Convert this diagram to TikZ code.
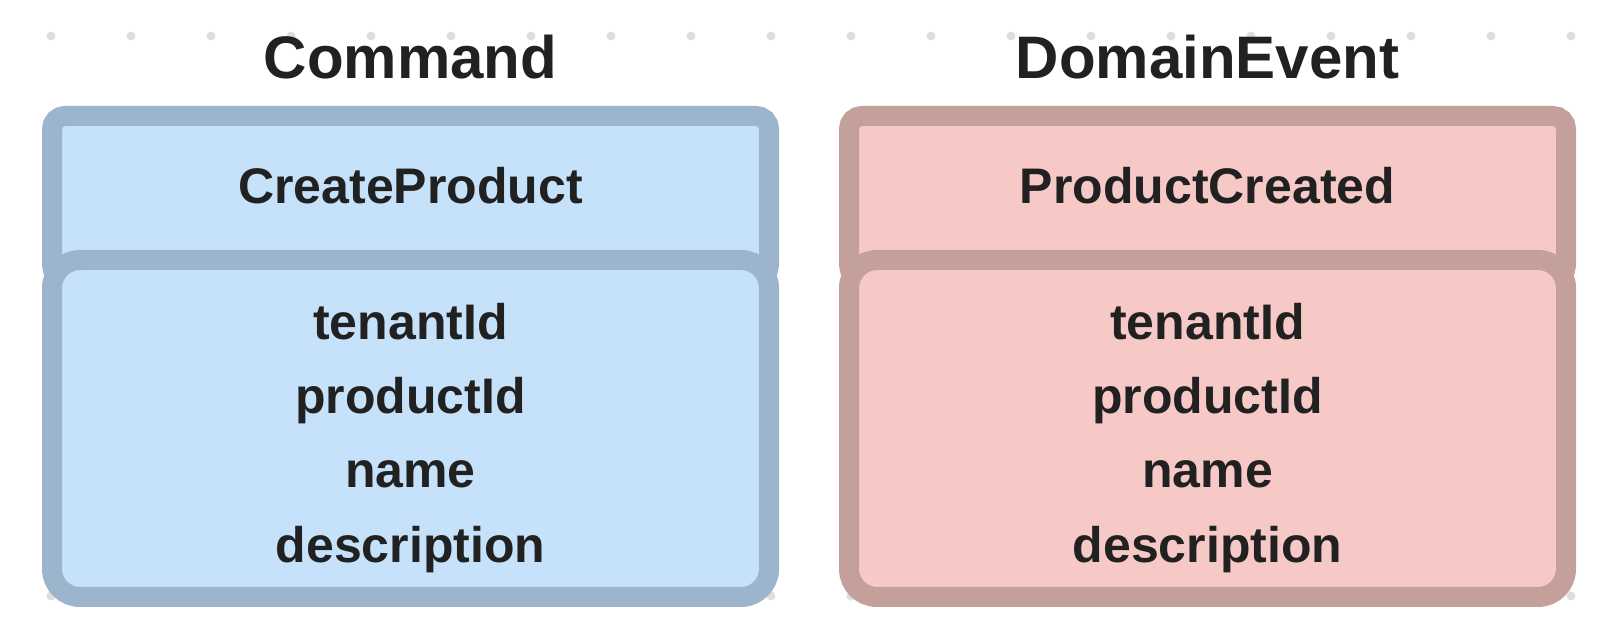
\documentclass[tikz,border=0pt]{standalone}
\usepackage{fontspec}
\setmainfont{Liberation Sans}
\definecolor{ink}{HTML}{212121}
\definecolor{dotgrey}{HTML}{DEDEDE}
\definecolor{cmdfill}{HTML}{C5E2FA}
\definecolor{cmdline}{HTML}{9DB5CC}
\definecolor{evtfill}{HTML}{F6C9C6}
\definecolor{evtline}{HTML}{C4A09A}
\tikzset{
    title/.style = {anchor = base, text = ink, font = \bfseries\fontsize{60}{72}\selectfont},
    entry/.style = {anchor = base, text = ink, font = \bfseries\fontsize{50}{60}\selectfont},
    cmdbox/.style = {fill = cmdfill, draw = cmdline, line width = 20pt},
    evtbox/.style = {fill = evtfill, draw = evtline, line width = 20pt},
}
\begin{document}
\begin{tikzpicture}[x = 1pt, y = 1pt]
    \useasboundingbox (0, 0) rectangle (1614, 644);
    % dot grid behind
    \foreach \i in {0,...,19} {
        \fill [dotgrey] (51 + 80*\i, 608) circle (4.5);
        \fill [dotgrey] (51 + 80*\i, 48) circle (4.5);
    }
    % command
    \draw [cmdbox, rounded corners = 13pt] (52, 528) rectangle (769, 366);
    \draw [cmdbox, rounded corners = 28pt] (52, 384) rectangle (769, 47);
    \node [title] (cmdtitle) at (410.5, 565) {Command};
    \node [entry] (cmdhead) at (410.5, 440) {CreateProduct};
    % domain event
    \draw [evtbox, rounded corners = 13pt] (849, 528) rectangle (1566, 366);
    \draw [evtbox, rounded corners = 28pt] (849, 384) rectangle (1566, 47);
    \node [title] (evttitle) at (1207.5, 565) {DomainEvent};
    \node [entry] (evthead) at (1207.5, 440) {ProductCreated};
    % fields
    \foreach \y/\f in {304/tenantId, 230/productId, 156/name, 81/description} {
        \node [entry] (cmd-\f) at (410.5, \y) {\f};
        \node [entry] (evt-\f) at (1207.5, \y) {\f};
    }
\end{tikzpicture}
\end{document}
